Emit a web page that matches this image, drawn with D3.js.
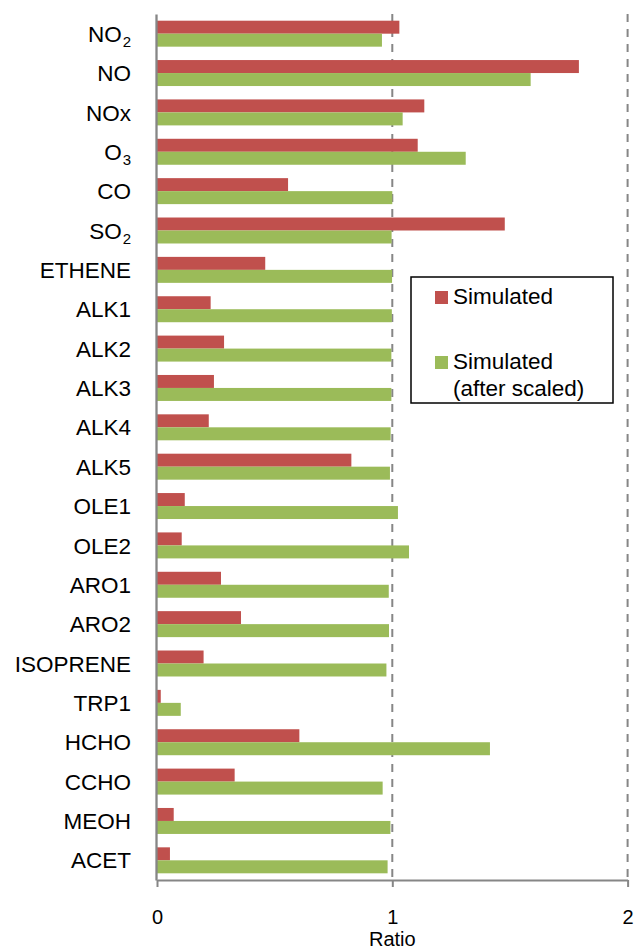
<!DOCTYPE html>
<html>
<head>
<meta charset="utf-8">
<script src="https://cdn.jsdelivr.net/npm/d3@7"></script>
<style>
  body { margin: 0; background: #fff; }
  svg { display: block; font-family: "Liberation Sans", Arial, sans-serif; }
</style>
</head>
<body>
<svg width="635" height="949"></svg>
<script>
// species names, "_" marks a subscript
const categories = ["NO_2", "NO", "NOx", "O_3", "CO", "SO_2", "ETHENE", "ALK1", "ALK2", "ALK3", "ALK4", "ALK5",
    "OLE1", "OLE2", "ARO1", "ARO2", "ISOPRENE", "TRP1", "HCHO", "CCHO", "MEOH", "ACET"];
const simulated = [1.030, 1.793, 1.136, 1.108, 0.557, 1.478, 0.460, 0.228, 0.285, 0.242, 0.220, 0.826,
    0.118, 0.105, 0.272, 0.357, 0.198, 0.016, 0.605, 0.330, 0.071, 0.055];
const scaled = [0.956, 1.588, 1.044, 1.312, 1.000, 0.997, 0.999, 0.998, 0.996, 0.996, 0.993, 0.990,
    1.024, 1.071, 0.985, 0.986, 0.975, 0.101, 1.415, 0.959, 0.992, 0.980];
const seriesNames = ["Simulated", "Simulated\n(after scaled)"];
const xTicks = [0, 1, 2];

const colors = ["#C0504D", "#9BBB59"];
const axisColor = "#868686";

const svg = d3.select("svg");
const plotLeft = 157, plotRight = 627.6, plotTop = 14, plotBottom = 880;

const rows = categories.map((c, i) => ({ name: c, values: [simulated[i], scaled[i]] }));

const x = d3.scaleLinear().domain([0, 2]).range([plotLeft, plotRight]);
const y = d3.scaleBand().domain(categories).range([plotTop, plotBottom]).paddingInner(0.34).paddingOuter(0.17);
const ySub = d3.scaleBand().domain([0, 1]).range([0, y.bandwidth()]);

// dashed gridlines
svg.append("g")
    .selectAll("line")
    .data(xTicks.filter(d => d > 0))
    .enter().append("line")
    .attr("x1", d => x(d)).attr("x2", d => x(d))
    .attr("y1", plotTop).attr("y2", plotBottom)
    .attr("stroke", axisColor)
    .attr("stroke-width", 2)
    .attr("stroke-dasharray", "8,7");

// bars
const group = svg.append("g")
    .selectAll("g")
    .data(rows)
    .enter().append("g")
    .attr("transform", d => `translate(0,${y(d.name)})`);

group.selectAll("rect")
    .data(d => d.values.map((v, i) => ({ v, i })))
    .enter().append("rect")
    .attr("x", x(0))
    .attr("y", d => ySub(d.i))
    .attr("width", d => x(d.v) - x(0))
    .attr("height", ySub.bandwidth())
    .attr("fill", d => colors[d.i]);

// bottom axis
const xAxis = svg.append("g")
    .attr("transform", `translate(0,${plotBottom})`)
    .call(d3.axisBottom(x).tickValues(xTicks).tickFormat(d3.format("d"))
        .tickSize(7).tickSizeOuter(0).tickPadding(23));
xAxis.select(".domain").attr("stroke", axisColor).attr("stroke-width", 2);
xAxis.selectAll(".tick line").attr("stroke", axisColor).attr("stroke-width", 2);
xAxis.selectAll(".tick text")
    .attr("fill", "#000")
    .style("font-size", "20px")
    .style("font-family", "'Liberation Sans', Arial, sans-serif");

svg.append("text")
    .attr("x", x(1))
    .attr("y", 946)
    .attr("text-anchor", "middle")
    .style("font-size", "20px")
    .text("Ratio");

// left axis
const yAxis = svg.append("g")
    .attr("transform", `translate(${plotLeft - 1},0)`)
    .call(d3.axisLeft(y).tickSize(0).tickSizeOuter(0).tickFormat(""));
yAxis.select(".domain").attr("stroke", axisColor).attr("stroke-width", 2.3);
yAxis.selectAll(".tick text").remove();

const labels = svg.append("g")
    .selectAll("text")
    .data(categories)
    .enter().append("text")
    .attr("x", 131)
    .attr("y", d => y(d) + y.bandwidth() / 2)
    .attr("dy", "0.36em")
    .attr("text-anchor", "end")
    .style("font-size", "22.5px");

labels.each(function(d) {
    const parts = d.split("_");
    const t = d3.select(this);
    t.append("tspan").text(parts[0]);
    if (parts.length > 1) {
        t.append("tspan")
            .attr("dx", 1)
            .attr("dy", 5)
            .style("font-size", "15px")
            .text(parts[1]);
    }
});

// legend
const legend = svg.append("g").attr("transform", "translate(411,277)");
legend.append("rect")
    .attr("width", 202).attr("height", 126)
    .attr("fill", "#fff")
    .attr("stroke", "#000")
    .attr("stroke-width", 1.5);

const legendY = [27, 92];
const items = legend.selectAll("g.item")
    .data(seriesNames)
    .enter().append("g")
    .attr("class", "item")
    .attr("transform", (d, i) => `translate(24,${legendY[i]})`);

items.append("rect")
    .attr("y", -13)
    .attr("width", 13).attr("height", 13)
    .attr("fill", (d, i) => colors[i]);

items.append("text")
    .attr("x", 18)
    .style("font-size", "22.5px")
    .selectAll("tspan")
    .data(d => d.split("\n"))
    .enter().append("tspan")
    .attr("x", 18)
    .attr("y", (d, i) => i * 27)
    .text(d => d);
</script>
</body>
</html>
